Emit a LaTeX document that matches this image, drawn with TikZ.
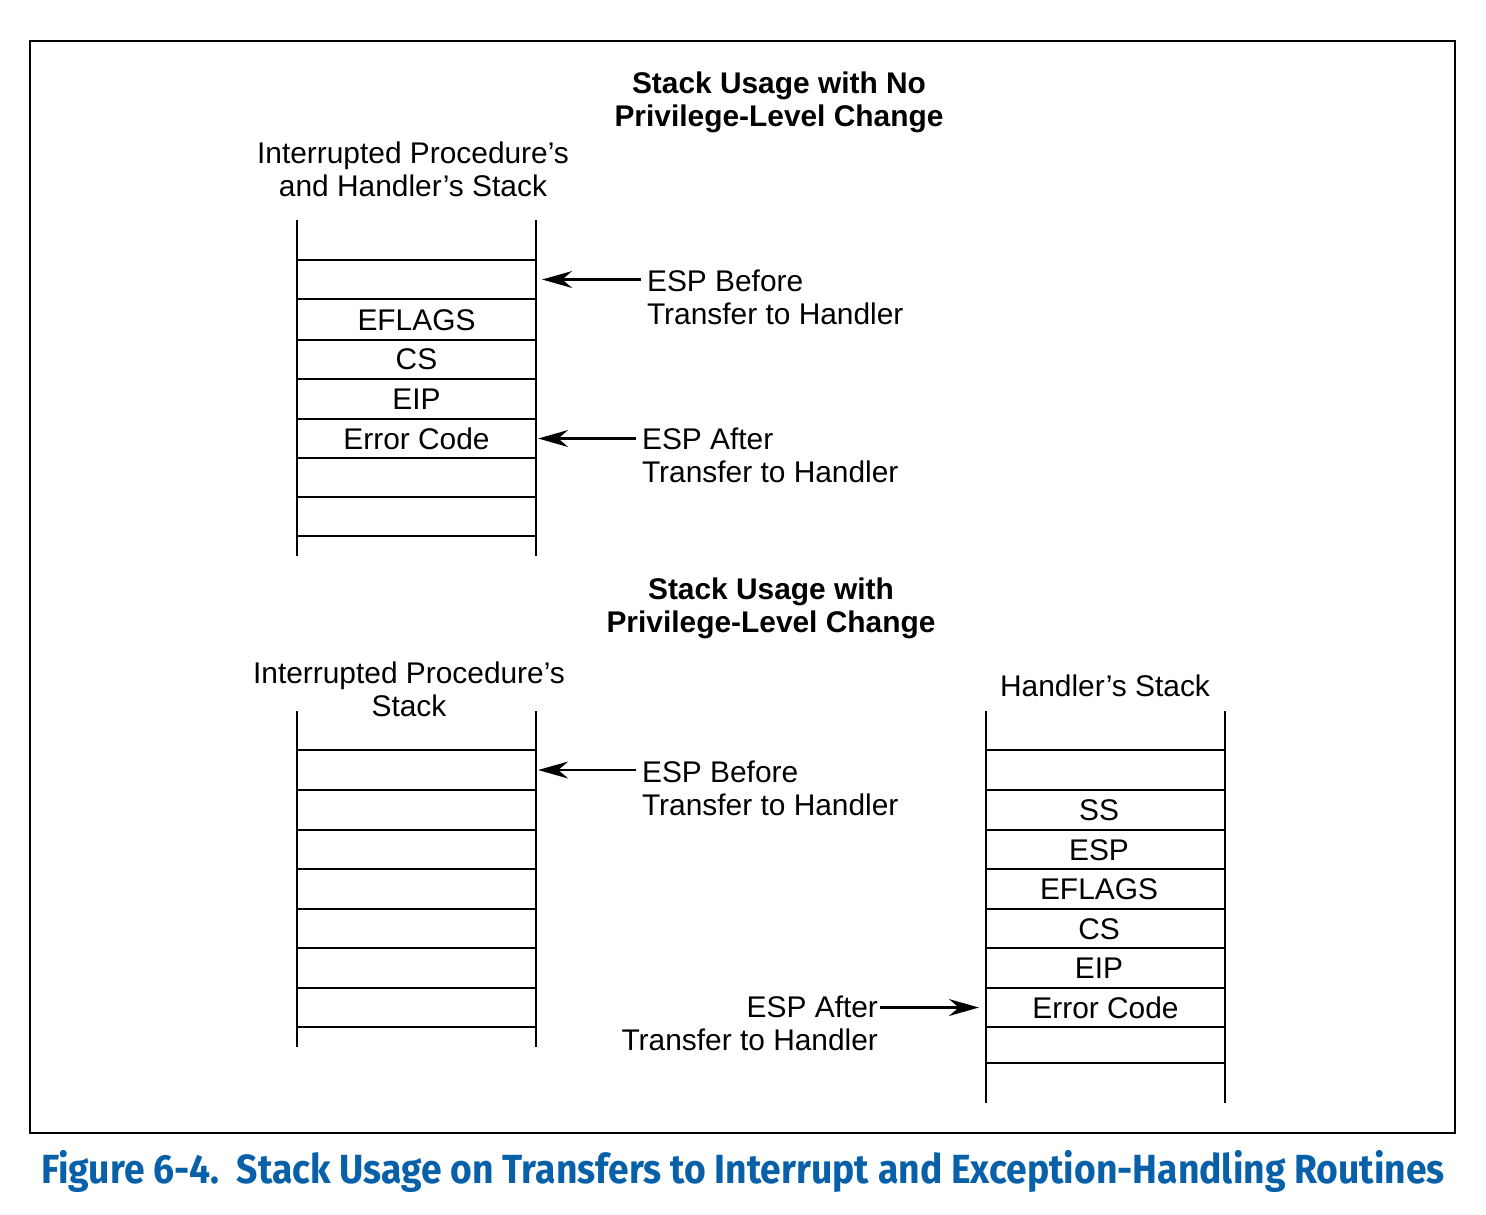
\documentclass[tikz,border=0pt]{standalone}
\usepackage{fontspec}
\usepackage{graphicx}
\setmainfont{Liberation Sans}
\newfontfamily\capfont{Fira Sans}
\usetikzlibrary{arrows.meta}
\definecolor{capblue}{HTML}{0860A8}

\tikzset{
  slot/.style={minimum width=2.39cm, minimum height=0.39cm, inner sep=0pt},
  esp/.style={inner xsep=0.05cm, inner ysep=0pt},
  head/.style={align=center, inner sep=0pt},
  ptr/.style={-{Stealth[length=8.5pt,width=4.8pt]}, line width=0.6pt},
}

\begin{document}
\begin{tikzpicture}[x=0.01cm, y=-0.01cm, line width=0.6pt, font=\fontsize{8.5}{9.4}\selectfont]
    \useasboundingbox (0,0) rectangle (1486,1214);
    \draw (30,41) rectangle (1455,1133);

    % no privilege-level change
    \node[head, font=\fontsize{8.5}{9.4}\selectfont\bfseries] (titleA) at (779,102) {Stack Usage with No\\Privilege-Level Change};
    \node[head] (nameA) at (413,169) {Interrupted Procedure’s\\and Handler’s Stack};
    \draw (297,220) -- (297,556); \draw (536,220) -- (536,556);
    \foreach \y in {260,299,340,379,419,458,497,536} \draw (297,\y) -- (536,\y);
    \foreach \n/\y/\t in {a1/279.5/{}, a2/320.5/EFLAGS, a3/359.5/CS, a4/399/EIP, a5/438.5/Error Code}
        \node[slot] (\n) at (416.5,\y) {\t};
    \node[esp, anchor=west, align=left] (befA) at (641,297) {ESP Before\\Transfer to Handler};
    \node[esp, anchor=west, align=left] (aftA) at (636,455) {ESP After\\Transfer to Handler};
    \draw[ptr, shorten >=0.05cm] (befA.west |- a1.east) -- (a1.east);
    \draw[ptr, shorten >=0.01cm] (aftA.west |- a5.east) -- (a5.east);

    % privilege-level change
    \node[head, font=\fontsize{8.5}{9.4}\selectfont\bfseries] (titleB) at (771,608) {Stack Usage with\\Privilege-Level Change};
    \node[head] (nameB) at (409,689) {Interrupted Procedure’s\\Stack};
    \draw (297,711) -- (297,1047); \draw (536,711) -- (536,1047);
    \foreach \y in {750,790,830,869,909,948,988,1027} \draw (297,\y) -- (536,\y);
    \node[slot] (b1) at (416.5,770) {};
    \node[esp, anchor=west, align=left] (befB) at (636,788) {ESP Before\\Transfer to Handler};
    \draw[ptr, shorten >=0.01cm] (befB.west |- b1.east) -- (b1.east);

    \node[head] (nameC) at (1105,686) {Handler’s Stack};
    \draw (986,711) -- (986,1103); \draw (1225,711) -- (1225,1103);
    \foreach \y in {750,790,830,869,909,948,988,1027,1063} \draw (986,\y) -- (1225,\y);
    \foreach \n/\y/\t in {c1/810.5/SS, c2/850.5/ESP, c3/889/EFLAGS, c4/929.5/CS, c5/968.5/EIP}
        \node[slot] (\n) at (1099,\y) {\t};
    \node[slot] (c6) at (1105.5,1007.5) {Error Code};
    \node[esp, inner xsep=0.01cm, anchor=east, align=right] (aftC) at (880,1023) {ESP After\\Transfer to Handler};
    \draw[ptr, shorten >=0.06cm] (aftC.east |- c6.west) -- (c6.west);

    % caption
    \node[text=capblue, inner sep=0pt, anchor=base west] (caption) at (40,1183)
        {\resizebox{14.03cm}{0.33cm}{\capfont\bfseries Figure 6-4.\ \ Stack Usage on Transfers to Interrupt and Exception-Handling Routines}};
\end{tikzpicture}
\end{document}
